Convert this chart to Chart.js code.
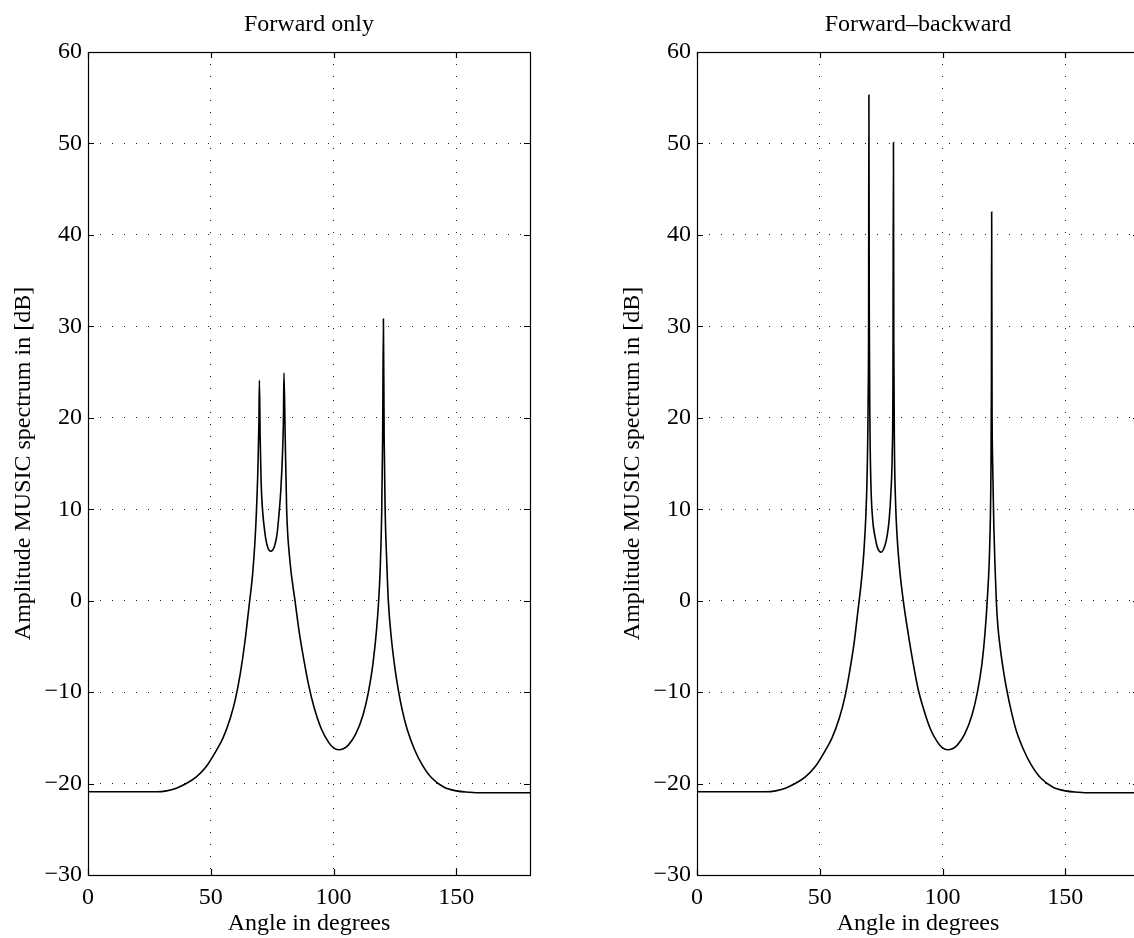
<!DOCTYPE html>
<html>
<head>
<meta charset="utf-8">
<script src="https://cdn.jsdelivr.net/npm/chart.js@4.4.1/dist/chart.umd.min.js"></script>
<style>
  html, body { margin: 0; padding: 0; background: #fff; width: 1134px; height: 938px; overflow: hidden; position: relative; }
  canvas { position: absolute; top: 0; }
  #c1 { left: 0; }
  #c2 { left: 609px; }
</style>
</head>
<body>
<canvas id="c1" width="567" height="938"></canvas>
<canvas id="c2" width="567" height="938"></canvas>
<script>
// ---- Data ----
const titles = ['Forward only', 'Forward\u2013backward'];
const xAxisTitle = 'Angle in degrees';
const yAxisTitle = 'Amplitude MUSIC spectrum in [dB]';
const xTicks = [0, 50, 100, 150];
const yTicks = [-30, -20, -10, 0, 10, 20, 30, 40, 50, 60];

const anglesFwd = [0, 10, 20, 28, 32, 36, 40, 44, 48, 52,
  55, 58, 60, 62, 64, 65.5, 67, 68, 68.6, 69.2,
  69.6, 69.8, 70.1, 70.5, 71, 72, 73, 74.4, 76, 77,
  77.7, 78.5, 79.2, 79.6, 79.8, 80.3, 80.9, 82, 84.3, 86,
  88, 90, 92, 95, 98, 100, 102, 104, 106, 109,
  112, 114.2, 116, 117.5, 118.3, 119, 119.6, 120, 120.3, 120.6,
  121, 121.7, 122.3, 123.5, 125, 126.4, 128, 130, 133, 136,
  140, 145, 150, 155, 158, 170, 180];
const dbFwd = [-20.9, -20.9, -20.9, -20.9, -20.8, -20.5, -20.0, -19.3, -18.2, -16.5,
  -15.0, -12.8, -10.8, -8.0, -4.3, -0.8, 2.8, 6.5, 9.8, 14.5,
  19.5, 24.1, 18, 13, 10.2, 7.5, 6.0, 5.4, 6.0, 7.3,
  9.2, 12, 16, 20, 24.9, 18, 10, 5.0, 0, -3.4,
  -6.6, -9.4, -11.6, -14.0, -15.5, -16.1, -16.3, -16.2, -15.8, -14.6,
  -12.5, -10, -7, -3.2, -0.3, 3.5, 9.5, 18, 30.8, 18,
  10, 4, 0, -4, -7.4, -9.8, -12.0, -14.1, -16.3, -17.9,
  -19.4, -20.4, -20.8, -20.95, -21, -21, -21];

const anglesFB = [0, 10, 20, 28, 32, 36, 40, 44, 48, 52,
  55, 58, 60, 62, 64, 65.5, 67, 68, 68.8, 69.3,
  69.7, 69.9, 70.0, 70.15, 70.4, 70.8, 71.5, 72.5, 73.5, 75,
  76.5, 77.5, 78.3, 79, 79.5, 79.8, 80.0, 80.15, 80.4, 80.9,
  81.5, 82.5, 84, 86, 88, 90, 92, 95, 98, 100,
  102, 104, 106, 109, 112, 114.2, 116, 117.3, 118.3, 119.2,
  119.7, 119.9, 120.0, 120.15, 120.4, 120.9, 121.9, 122.5, 123.5, 125,
  126.4, 128, 130, 133, 136, 140, 145, 150, 155, 158,
  170, 180];
const dbFB = [-20.9, -20.9, -20.9, -20.9, -20.8, -20.5, -20.0, -19.3, -18.2, -16.5,
  -15.0, -12.8, -10.8, -8.0, -4.6, -1.2, 2.3, 5.5, 9.5, 14,
  22, 32, 55.3, 32, 20, 13, 9, 7, 5.8, 5.3,
  6.0, 7.2, 9, 12, 16, 24, 50.1, 28, 17, 10.5,
  7, 3.5, 0, -3.6, -6.8, -9.6, -11.6, -14.0, -15.5, -16.1,
  -16.3, -16.2, -15.8, -14.6, -12.5, -10, -7, -3.5, 0.5, 6,
  14, 24, 42.5, 22, 15, 8, 0, -2.7, -5.2, -8.0,
  -10.1, -12.1, -14.2, -16.3, -17.9, -19.4, -20.4, -20.8, -20.95, -21,
  -21, -21];

// ---- Chart construction ----
const FONT = '"Liberation Serif", "Times New Roman", Times, serif';

const frameTicks = {
  id: 'frameTicks',
  afterDatasetsDraw(chart) {
    const { ctx, chartArea: a, scales: { x, y } } = chart;
    const L = 6;
    ctx.save();
    ctx.strokeStyle = '#000';
    ctx.lineWidth = 1.2;
    ctx.strokeRect(Math.round(a.left) + 0.5, Math.round(a.top) + 0.5,
      Math.round(a.right - a.left), Math.round(a.bottom - a.top));
    ctx.beginPath();
    x.ticks.forEach(t => {
      const px = Math.round(x.getPixelForValue(t.value)) + 0.5;
      ctx.moveTo(px, a.bottom); ctx.lineTo(px, a.bottom - L);
      ctx.moveTo(px, a.top); ctx.lineTo(px, a.top + L);
    });
    y.ticks.forEach(t => {
      const py = Math.round(y.getPixelForValue(t.value)) + 0.5;
      ctx.moveTo(a.left, py); ctx.lineTo(a.left + L, py);
      ctx.moveTo(a.right, py); ctx.lineTo(a.right - L, py);
    });
    ctx.stroke();
    ctx.restore();
  }
};

function makeChart(id, title, xs, ys) {
  const pts = xs.map((v, i) => ({ x: v, y: ys[i] }));
  return new Chart(document.getElementById(id), {
    type: 'line',
    data: { datasets: [{ data: pts, borderColor: '#000', borderWidth: 1.6, pointRadius: 0,
      cubicInterpolationMode: 'monotone', fill: false }] },
    options: {
      responsive: false,
      animation: false,
      events: [],
      layout: { padding: { left: 0, right: 37, top: 0, bottom: 0 } },
      plugins: {
        legend: { display: false },
        tooltip: { enabled: false },
        title: {
          display: true, text: title, fullSize: false, color: '#000',
          font: { family: FONT, size: 24, weight: 'normal' },
          padding: { top: 10, bottom: 13.2 }
        }
      },
      scales: {
        x: {
          type: 'linear', min: 0, max: 180,
          afterFit(s) { s.height = 63; },
          ticks: {
            stepSize: 50, includeBounds: false, color: '#000', padding: 8,
            maxRotation: 0, autoSkip: false,
            font: { family: FONT, size: 24 },
            callback: v => xTicks.includes(v) ? String(v) : ''
          },
          grid: { color: '#222', lineWidth: 1, drawTicks: false },
          border: { display: false, dash: [1, 11] },
          title: { display: true, text: xAxisTitle, color: '#000', font: { family: FONT, size: 24 }, padding: { top: 0, bottom: 0 } }
        },
        y: {
          type: 'linear', min: -30, max: 60,
          afterFit(s) { s.width = 88; },
          ticks: {
            stepSize: 10, color: '#000', padding: 6, autoSkip: false,
            font: { family: FONT, size: 24 },
            callback: v => yTicks.includes(v) ? String(v).replace('-', '\u2212') : ''
          },
          grid: { color: '#222', lineWidth: 1, drawTicks: false },
          border: { display: false, dash: [1, 11] },
          title: { display: true, text: yAxisTitle, color: '#000', font: { family: FONT, size: 24 }, padding: { top: 9, bottom: 0 } }
        }
      }
    },
    plugins: [frameTicks]
  });
}

makeChart('c1', titles[0], anglesFwd, dbFwd);
makeChart('c2', titles[1], anglesFB, dbFB);
</script>
</body>
</html>
